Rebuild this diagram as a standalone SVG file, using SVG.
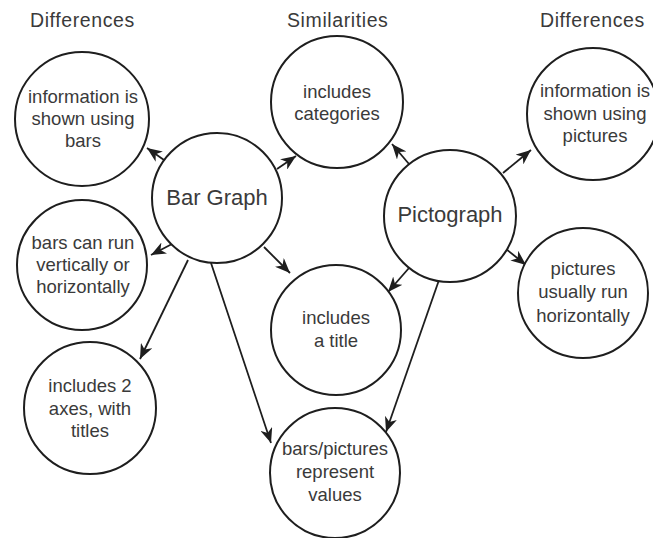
<svg xmlns="http://www.w3.org/2000/svg" width="653" height="538" viewBox="0 0 653 538">
<style>
.c{fill:#fff;stroke:#1e1e1e;stroke-width:2}
.t{font-family:"Liberation Sans",Arial,sans-serif;font-size:18.5px;fill:#3a3a3a;text-anchor:middle}
.big{font-size:22px}
.h{font-family:"Liberation Sans",Arial,sans-serif;font-size:19.5px;fill:#3a3a3a;letter-spacing:0.6px}
.e{stroke:#1e1e1e;stroke-width:1.8;fill:none;marker-end:url(#ah)}
</style>
<defs>
<marker id="ah" viewBox="0 0 12 10" refX="12" refY="5" markerWidth="15" markerHeight="12.5" markerUnits="userSpaceOnUse" orient="auto">
<path d="M0,0 L12,5 L0,10 L3.5,5 z" fill="#1e1e1e"/>
</marker>
</defs>
<rect width="653" height="538" fill="#fff"/>
<g id="headings">
<text class="h" x="30" y="27">Differences</text>
<text class="h" x="287" y="27">Similarities</text>
<text class="h" x="540" y="27">Differences</text>
</g>
<g id="connectors">
<line class="e" x1="164" y1="160" x2="147" y2="148"/>
<line class="e" x1="277" y1="169" x2="296" y2="156"/>
<line class="e" x1="172" y1="244" x2="151" y2="255"/>
<line class="e" x1="188" y1="260" x2="140" y2="359"/>
<line class="e" x1="264" y1="247" x2="290" y2="273"/>
<line class="e" x1="211" y1="263" x2="271" y2="443"/>
<line class="e" x1="409" y1="164" x2="392" y2="144"/>
<line class="e" x1="503" y1="173" x2="531" y2="150"/>
<line class="e" x1="506" y1="249" x2="526" y2="265"/>
<line class="e" x1="409" y1="268" x2="388" y2="292"/>
<line class="e" x1="439" y1="280" x2="386" y2="432"/>
</g>
<g id="bar-graph"><circle class="c" cx="217" cy="198" r="65"/><text class="t big" x="217" y="205">Bar Graph</text></g>
<g id="pictograph"><circle class="c" cx="450" cy="216" r="66"/><text class="t big" x="450" y="222">Pictograph</text></g>
<g id="diff-bars"><circle class="c" cx="82" cy="119" r="67"/><text class="t" x="83"><tspan x="83" y="103">information is</tspan><tspan x="83" y="125">shown using</tspan><tspan x="83" y="147">bars</tspan></text></g>
<g id="diff-run"><circle class="c" cx="82" cy="265" r="65"/><text class="t" x="83"><tspan x="83" y="249">bars can run</tspan><tspan x="83" y="271">vertically or</tspan><tspan x="83" y="293">horizontally</tspan></text></g>
<g id="diff-axes"><circle class="c" cx="90" cy="408" r="66"/><text class="t" x="90"><tspan x="90" y="392">includes 2</tspan><tspan x="90" y="415">axes, with</tspan><tspan x="90" y="437">titles</tspan></text></g>
<g id="sim-categories"><circle class="c" cx="337" cy="102" r="66"/><text class="t" x="337"><tspan x="337" y="98">includes</tspan><tspan x="337" y="120">categories</tspan></text></g>
<g id="sim-title"><circle class="c" cx="336" cy="330" r="65"/><text class="t" x="336"><tspan x="336" y="324">includes</tspan><tspan x="336" y="347">a title</tspan></text></g>
<g id="sim-values"><circle class="c" cx="335" cy="473" r="65"/><text class="t" x="335"><tspan x="335" y="455">bars/pictures</tspan><tspan x="335" y="478">represent</tspan><tspan x="335" y="501">values</tspan></text></g>
<g id="diff-pictures"><circle class="c" cx="593" cy="114" r="66"/><text class="t" x="595"><tspan x="595" y="97">information is</tspan><tspan x="595" y="120">shown using</tspan><tspan x="595" y="142">pictures</tspan></text></g>
<g id="diff-horizontal"><circle class="c" cx="583" cy="293" r="65"/><text class="t" x="583"><tspan x="583" y="275">pictures</tspan><tspan x="583" y="298">usually run</tspan><tspan x="583" y="322">horizontally</tspan></text></g>
</svg>
